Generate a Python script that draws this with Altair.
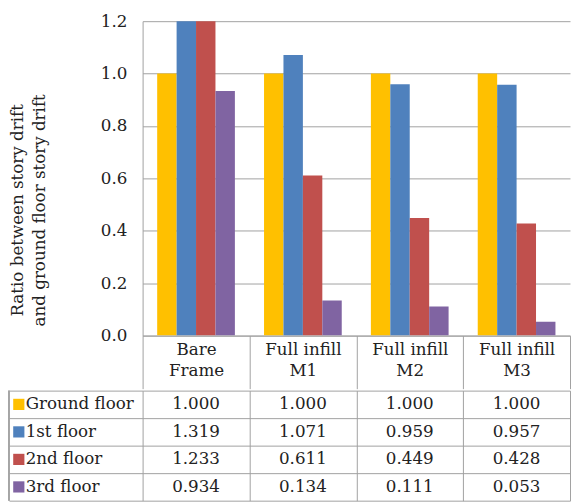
import altair as alt
import pandas as pd

categories = ["Bare Frame", "Full infill M1", "Full infill M2", "Full infill M3"]
category_lines = [["Bare", "Frame"], ["Full infill", "M1"], ["Full infill", "M2"], ["Full infill", "M3"]]
floors = ["Ground floor", "1st floor", "2nd floor", "3rd floor"]
ground_floor = [1.000, 1.000, 1.000, 1.000]
first_floor = [1.319, 1.071, 0.959, 0.957]
second_floor = [1.233, 0.611, 0.449, 0.428]
third_floor = [0.934, 0.134, 0.111, 0.053]
colors = ["#FFC000", "#4F81BD", "#C0504D", "#8064A2"]
y_ticks = [0.0, 0.2, 0.4, 0.6, 0.8, 1.0, 1.2]

rows = []
for f, vals in zip(floors, [ground_floor, first_floor, second_floor, third_floor]):
    for c, v in zip(categories, vals):
        rows.append({"category": c, "floor": f, "value": v, "label": f"{v:.3f}"})
df = pd.DataFrame(rows)
legend_df = pd.DataFrame({"floor": floors})

FONT = "DejaVu Serif"
FS = 17
TXT = "#222222"
GRID = "#A0A0A0"
W = 435
LEFT = 136

color_enc = alt.Color("floor:N", sort=floors,
                      scale=alt.Scale(domain=floors, range=colors), legend=None)

label_expr = "''"
for cat, lines in reversed(list(zip(categories, category_lines))):
    label_expr = f"datum.label == '{cat}' ? ['{lines[0]}', '{lines[1]}'] : ({label_expr})"

bars = alt.Chart(df).mark_bar(clip=True).encode(
    x=alt.X("category:N", sort=categories,
            scale=alt.Scale(paddingInner=0, paddingOuter=0),
            axis=alt.Axis(title=None, orient="bottom", domain=True, domainColor=GRID,
                          ticks=True, tickBand="extent", tickSize=54, tickColor=GRID,
                          labelPadding=-48, labelExpr=label_expr, labelFont=FONT,
                          labelFontSize=FS, labelColor=TXT, labelLineHeight=22,
                          labelBaseline="top", labelAngle=0, grid=False)),
    xOffset=alt.XOffset("floor:N", sort=floors,
                        scale=alt.Scale(paddingInner=0, paddingOuter=0.75)),
    y=alt.Y("value:Q", scale=alt.Scale(domain=[0, 1.2], nice=False),
            axis=alt.Axis(values=y_ticks, format=".1f", ticks=False, domain=True,
                          domainColor=GRID, grid=True, gridColor=GRID,
                          labelFont=FONT, labelFontSize=FS, labelColor=TXT,
                          labelPadding=16,
                          title=["Ratio between story drift", "and ground floor story drift"],
                          titleFont=FONT, titleFontSize=17, titleFontWeight="normal",
                          titleColor=TXT, titleAngle=270, titleBaseline="top",
                          titleAlign="center", titleLineHeight=22,
                          titleX=-135, titleY=192)),
    color=color_enc,
).properties(width=W, height=320)

x_tab = alt.X("category:N", sort=categories,
              scale=alt.Scale(paddingInner=0, paddingOuter=0),
              axis=alt.Axis(title=None, labels=False, ticks=False, domain=False,
                            grid=True, tickBand="extent", gridColor=GRID))
y_tab = alt.Y("floor:N", sort=floors,
              scale=alt.Scale(paddingInner=0, paddingOuter=0),
              axis=alt.Axis(title=None, labels=False, ticks=True, tickSize=LEFT,
                            tickBand="extent", tickColor=GRID, domain=False,
                            grid=True, gridColor=GRID))

values_text = alt.Chart(df).mark_text(font=FONT, fontSize=FS, color=TXT).encode(
    x=x_tab, y=y_tab, text="label:N")

left_border = alt.Chart(legend_df).mark_rule(color=GRID).encode(
    x=alt.value(-LEFT), y=alt.value(0), y2=alt.value(112))

legend_sq = alt.Chart(legend_df).mark_point(shape="square", filled=True, size=130,
                                            opacity=1).encode(
    x=alt.value(-126), y=alt.Y("floor:N", sort=floors), color=color_enc)

legend_txt = alt.Chart(legend_df).mark_text(font=FONT, fontSize=FS, color=TXT,
                                            align="left").encode(
    x=alt.value(-119), y=alt.Y("floor:N", sort=floors), text="floor:N")

table = alt.layer(values_text, left_border, legend_sq, legend_txt).properties(
    width=W, height=112)

chart = alt.vconcat(bars, table, spacing=0).configure(padding=0).configure_view(
    stroke=None)

chart.save("out.html", embed_options={"renderer": "svg", "actions": False})
